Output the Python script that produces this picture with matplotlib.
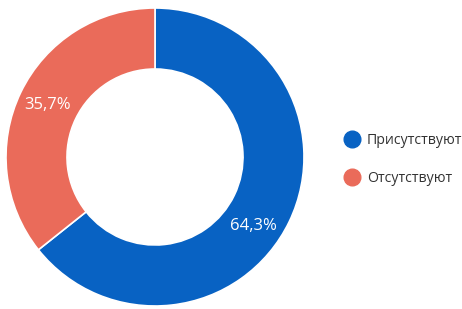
import numpy as np
import matplotlib.pyplot as plt

labels = ['Присутствуют', 'Отсутствуют']
shares = [64.3, 35.7]
colors = ['#0862c3', '#ea6b5a']

plt.rcParams['font.family'] = ['Open Sans', 'DejaVu Sans']

fig = plt.figure(figsize=(4.62, 3.09), dpi=100)
ax = fig.add_axes([5 / 462, 2 / 309, 300 / 462, 300 / 309])

wedges, texts, autotexts = ax.pie(
    shares, colors=colors, startangle=90, counterclock=False,
    radius=149 / 150, autopct=lambda p: f'{p:.1f}%'.replace('.', ','),
    pctdistance=0.8, wedgeprops=dict(width=61 / 150, edgecolor='white', linewidth=1.2),
    textprops=dict(color='white', fontsize=12))
ax.set_xlim(-1, 1)
ax.set_ylim(-1, 1)
ax.set_aspect('equal')

# the blue label sits a bit lower than the slice midpoint
ang = np.deg2rad(-35)
autotexts[0].set_position((0.8 * np.cos(ang), 0.8 * np.sin(ang)))

handles = [plt.Line2D([], [], marker='o', linestyle='none', markersize=12,
                      markerfacecolor=c, markeredgecolor=c) for c in colors]
fig.legend(handles, labels, loc='center left', bbox_to_anchor=(331 / 462, 0.484),
           frameon=False, fontsize=10.2, labelcolor='#333333', handletextpad=0.45,
           labelspacing=1.65, handlelength=1.2)

fig.savefig('out.png', dpi=100)
